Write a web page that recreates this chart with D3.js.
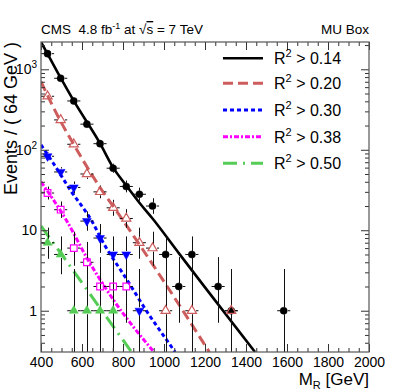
<!DOCTYPE html>
<html>
<head>
<meta charset="utf-8">
<script src="https://cdn.jsdelivr.net/npm/d3@7"></script>
<style>
    body { margin: 0; background: #fff; }
    svg { display: block; font-family: "Liberation Sans", Arial, sans-serif; }
    text { white-space: pre; }
</style>
</head>
<body>
<div id="chart"></div>
<script>
// M_R bin centres (64 GeV bins) and observed events, one pair per R^2 cut
const cuts = ["0.14", "0.20", "0.30", "0.38", "0.50"];

const mrR014 = [432, 496, 560, 624, 688, 752, 816, 880, 944, 1008, 1072, 1136, 1264, 1328, 1584];
const nR014  = [1563, 773, 404, 208, 119, 59, 35, 28, 20, 5, 2, 5, 2, 1, 1];

const mrR020 = [432, 496, 560, 624, 688, 752, 816, 880, 944, 1008, 1136, 1328];
const nR020  = [462, 235, 117, 50, 30, 19, 14, 7, 6, 1, 1, 1];

const mrR030 = [432, 496, 560, 624, 688, 752, 816, 880];
const nR030  = [83, 53, 34, 13, 8, 5, 5, 1];

const mrR038 = [432, 496, 560, 624, 688, 752, 816];
const nR038  = [29, 18, 6, 4, 2, 2, 2];

const mrR050 = [432, 496, 560, 624, 688, 752];
const nR050  = [7, 5, 1, 1, 1, 1];

// fit curves: [M_R, events]
const fitR014 = [[400, 2180], [432, 1550], [496, 780], [560, 404], [688, 120], [752, 60], [816, 36], [880, 22], [944, 14], [1072, 5.2], [1200, 1.95], [1444, 0.307]];
const fitR020 = [[400, 700], [492, 235], [548, 131], [688, 34], [778, 16], [1000, 2.3], [1221, 0.307]];
const fitR030 = [[400, 115], [460, 68], [549, 30], [645, 13.4], [705, 6.9], [816, 2.5], [922, 0.93], [1011, 0.44], [1054, 0.307]];
const fitR038 = [[400, 40], [523, 13.4], [629, 4.3], [759, 1.3], [951, 0.307]];
const fitR050 = [[400, 11.3], [496, 5.2], [688, 1.08], [842, 0.307]];

// axis ticks
const xTickValues = [400, 600, 800, 1000, 1200, 1400, 1600, 1800, 2000];
const yTickValues = [1, 10, 100, 1000];
const yTickBase   = ["1", "10", "10", "10"];
const yTickExp    = ["", "", "2", "3"];

// 68% Poisson intervals for small counts
const poisLo = {1: 0.173, 2: 0.708, 3: 1.367, 4: 2.086, 5: 2.840, 6: 3.620, 7: 4.419, 8: 5.232, 9: 6.057, 10: 6.891};
const poisHi = {1: 3.300, 2: 4.638, 3: 5.918, 4: 7.163, 5: 8.382, 6: 9.584, 7: 10.77, 8: 11.95, 9: 13.11, 10: 14.27};

const series = [
    {mr: mrR014, n: nR014, fit: fitR014, color: "#000000", dash: null, width: 2.6, marker: "circle", filled: true},
    {mr: mrR020, n: nR020, fit: fitR020, color: "#cd5c5c", dash: "10,5", width: 3, marker: "triangle", filled: false},
    {mr: mrR030, n: nR030, fit: fitR030, color: "#0000ff", dash: "4,3", width: 3, marker: "triangleDown", filled: true},
    {mr: mrR038, n: nR038, fit: fitR038, color: "#ff00ff", dash: "5,2,2,2", width: 3, marker: "square", filled: false},
    {mr: mrR050, n: nR050, fit: fitR050, color: "#55cc55", dash: "14,6,2,6", width: 3, marker: "triangle", filled: true}
];

const W = 411, H = 392;
const pLeft = 41, pRight = 369, pTop = 42, pBottom = 352;

const x = d3.scaleLinear().domain([400, 2000]).range([pLeft, pRight]);
const y = d3.scaleLog().domain([0.307, 2183]).range([pBottom, pTop]);

const svg = d3.select("#chart").append("svg")
    .attr("width", W)
    .attr("height", H);

svg.append("clipPath").attr("id", "plot-clip")
    .append("rect")
    .attr("x", pLeft).attr("y", pTop)
    .attr("width", pRight - pLeft).attr("height", pBottom - pTop);

const plot = svg.append("g").attr("clip-path", "url(#plot-clip)");

// fit lines
const line = d3.line()
    .x(d => x(d[0]))
    .y(d => y(d[1]))
    .curve(d3.curveMonotoneX);

series.forEach(s => {
    plot.append("path")
        .attr("d", line(s.fit))
        .attr("fill", "none")
        .attr("stroke", s.color)
        .attr("stroke-width", s.width)
        .attr("stroke-dasharray", s.dash);
});

// error bars
const gap = 3.5;
function errLo(n) { return n <= 10 ? poisLo[n] : n - Math.sqrt(n + 0.25) + 0.5; }
function errHi(n) { return n <= 10 ? poisHi[n] : n + Math.sqrt(n + 0.25) + 0.5; }

series.forEach(s => {
    const pts = s.mr.map((m, i) => ({mr: m, n: s.n[i]}));
    const g = plot.append("g").attr("stroke", "#111").attr("stroke-width", 1);
    pts.forEach(p => {
        const cx = Math.round(x(p.mr)) + 0.5;
        const cy = y(p.n);
        const yHi = y(errHi(p.n));
        const yLo = Math.min(y(errLo(p.n)), pBottom + 5);
        if (cy - gap > yHi) g.append("line").attr("x1", cx).attr("x2", cx).attr("y1", yHi).attr("y2", cy - gap);
        if (yLo > cy + gap) g.append("line").attr("x1", cx).attr("x2", cx).attr("y1", cy + gap).attr("y2", yLo);
        g.append("line").attr("x1", x(p.mr - 32)).attr("x2", cx - gap).attr("y1", cy).attr("y2", cy);
        g.append("line").attr("x1", cx + gap).attr("x2", x(p.mr + 32)).attr("y1", cy).attr("y2", cy);
    });
});

// markers
const symbols = {
    circle: d3.symbol().type(d3.symbolCircle).size(40),
    triangle: d3.symbol().type(d3.symbolTriangle).size(36),
    triangleDown: d3.symbol().type(d3.symbolTriangle).size(34),
    square: d3.symbol().type(d3.symbolSquare).size(44)
};

series.forEach(s => {
    const pts = s.mr.map((m, i) => ({mr: m, n: s.n[i]}));
    plot.append("g").selectAll("path")
        .data(pts)
        .enter().append("path")
        .attr("d", symbols[s.marker]())
        .attr("transform", d => `translate(${x(d.mr)},${y(d.n)})` + (s.marker === "triangleDown" ? " rotate(180)" : ""))
        .attr("fill", s.filled ? s.color : "none")
        .attr("stroke", s.color)
        .attr("stroke-width", s.filled ? 0.5 : 1.2);
});

// frame and ticks (inward, on all four sides)
const xMinor = d3.range(400, 2001, 50).filter(v => v % 200 !== 0);
const yMinor = [];
[0.1, 1, 10, 100, 1000].forEach(dec => {
    for (let k = 2; k <= 9; k++) {
        const v = dec * k;
        if (v > 0.307 && v < 2183) yMinor.push(v);
    }
});

function addAxis(gen, transform) {
    const g = svg.append("g")
        .attr("transform", transform)
        .attr("color", "#333")
        .call(gen);
    g.select(".domain").remove();
    return g;
}

const xBottom = addAxis(d3.axisBottom(x).tickValues(xTickValues).tickSize(-8).tickPadding(5).tickFormat(d3.format("d")), `translate(0,${pBottom})`);
xBottom.selectAll("text").attr("font-size", 14).attr("font-family", "Liberation Sans, Arial, sans-serif").attr("fill", "#000");
addAxis(d3.axisBottom(x).tickValues(xMinor).tickSize(-4).tickFormat(""), `translate(0,${pBottom})`);
addAxis(d3.axisTop(x).tickValues(xTickValues).tickSize(-8).tickFormat(""), `translate(0,${pTop})`);
addAxis(d3.axisTop(x).tickValues(xMinor).tickSize(-4).tickFormat(""), `translate(0,${pTop})`);

addAxis(d3.axisLeft(y).tickValues(yTickValues).tickSize(-8).tickFormat(""), `translate(${pLeft},0)`);
addAxis(d3.axisLeft(y).tickValues(yMinor).tickSize(-4).tickFormat(""), `translate(${pLeft},0)`);
addAxis(d3.axisRight(y).tickValues(yTickValues).tickSize(-8).tickFormat(""), `translate(${pRight},0)`);
addAxis(d3.axisRight(y).tickValues(yMinor).tickSize(-4).tickFormat(""), `translate(${pRight},0)`);

svg.append("rect")
    .attr("x", pLeft).attr("y", pTop)
    .attr("width", pRight - pLeft).attr("height", pBottom - pTop)
    .attr("fill", "none")
    .attr("stroke", "#555")
    .attr("stroke-width", 1.2);

// y tick labels with superscripts
yTickValues.forEach((v, i) => {
    const t = svg.append("text")
        .attr("x", 37)
        .attr("y", y(v) + 5)
        .attr("text-anchor", "end")
        .attr("font-size", 14);
    t.append("tspan").text(yTickBase[i]);
    if (yTickExp[i]) {
        t.append("tspan").attr("font-size", 10).attr("dy", -6).text(yTickExp[i]);
    }
});

// axis titles
svg.append("text")
    .attr("transform", `translate(17,${pTop}) rotate(-90)`)
    .attr("text-anchor", "end")
    .attr("font-size", 18)
    .text("Events / ( 64 GeV )");

const xt = svg.append("text")
    .attr("x", pRight)
    .attr("y", 385)
    .attr("text-anchor", "end")
    .attr("font-size", 17);
xt.append("tspan").text("M");
xt.append("tspan").attr("font-size", 11).attr("dy", 4).text("R");
xt.append("tspan").attr("dy", -4).text(" [GeV]");

// header
const hd = svg.append("text")
    .attr("x", pLeft)
    .attr("y", 34)
    .attr("font-size", 13.5);
hd.append("tspan").text("CMS  4.8 fb");
hd.append("tspan").attr("font-size", 9).attr("dy", -5).text("-1");
hd.append("tspan").attr("dy", 5).text(" at ");
hd.append("tspan").text("\u221A");
hd.append("tspan").attr("text-decoration", "overline").text("s");
hd.append("tspan").text(" = 7 TeV");

svg.append("text")
    .attr("x", pRight)
    .attr("y", 34)
    .attr("text-anchor", "end")
    .attr("font-size", 13.5)
    .text("MU Box");

// legend
const legendRows = [58.3, 83.3, 110, 136.7, 163.3];
series.forEach((s, i) => {
    const ly = legendRows[i];
    svg.append("line")
        .attr("x1", 223).attr("x2", 263)
        .attr("y1", ly).attr("y2", ly)
        .attr("stroke", s.color)
        .attr("stroke-width", s.width)
        .attr("stroke-dasharray", s.dash);
    const t = svg.append("text")
        .attr("x", 274)
        .attr("y", ly + 6)
        .attr("font-size", 16);
    t.append("tspan").text("R");
    t.append("tspan").attr("font-size", 11).attr("dy", -7).text("2");
    t.append("tspan").attr("dy", 7).text(" > " + cuts[i]);
});
</script>
</body>
</html>
